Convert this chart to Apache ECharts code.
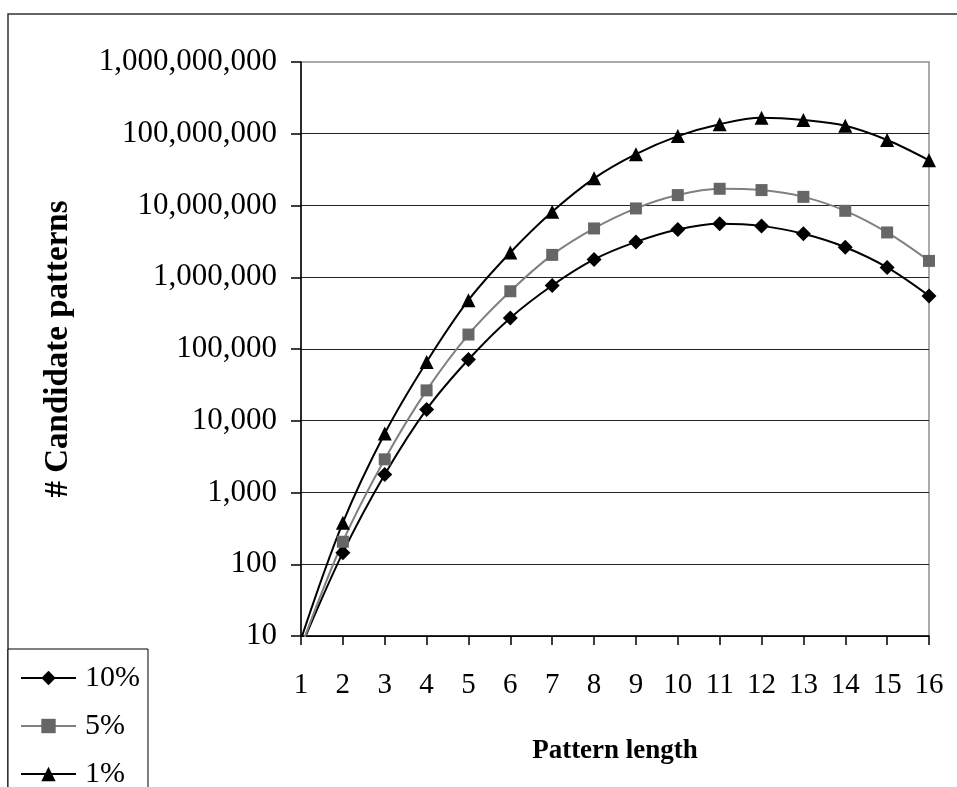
<!DOCTYPE html>
<html>
<head>
<meta charset="utf-8">
<script src="https://cdn.jsdelivr.net/npm/echarts@6/dist/echarts.min.js"></script>
<style>
html,body{margin:0;padding:0;background:#fff;}
#chart{width:957px;height:787px;}
</style>
</head>
<body>
<div id="chart"></div>
<script>
var patternLengths = [1,2,3,4,5,6,7,8,9,10,11,12,13,14,15,16];
var seriesNames = ['10%', '5%', '1%'];
var support10 = [7, 145, 1780, 14400, 71300, 271000, 767000, 1770000, 3110000, 4640000, 5550000, 5200000, 4030000, 2620000, 1370000, 550000];
var support5  = [7, 206, 2900, 26500, 159000, 638000, 2050000, 4790000, 9100000, 13970000, 17100000, 16400000, 13200000, 8430000, 4210000, 1690000];
var support1  = [9, 379, 6650, 66000, 479000, 2210000, 8170000, 23900000, 52000000, 92700000, 136000000, 167000000, 155000000, 129000000, 81700000, 42600000];
var yTicks = [10, 100, 1000, 10000, 100000, 1000000, 10000000, 100000000, 1000000000];

function pairs(vals){ return patternLengths.map(function(x,i){ return [x, vals[i]]; }); }

var font = '"Liberation Serif", "Times New Roman", serif';
var chart = echarts.init(document.getElementById('chart'), null, {renderer:'canvas'});
var styles = [
  {color:'#000000', lineColor:'#000000', symbol:'diamond', size:15},
  {color:'#666666', lineColor:'#808080', symbol:'rect', size:12},
  {color:'#000000', lineColor:'#000000', symbol:'triangle', size:14}
];
var allData = [support10, support5, support1];
var series = allData.map(function(d, i){
  var s = styles[i];
  return {
    name: seriesNames[i],
    type: 'line',
    data: pairs(d),
    smooth: 0.35,
    symbol: s.symbol,
    symbolSize: s.size,
    showAllSymbol: true,
    clip: true,
    lineStyle: {color: s.lineColor, width: 2},
    itemStyle: {color: s.color, borderColor: s.color, borderWidth: 0},
    emphasis: {disabled: true},
    z: 3
  };
});

chart.setOption({
  animation: false,
  backgroundColor: '#ffffff',
  graphic: [{
    type: 'rect',
    shape: {x: 8, y: 14, width: 1000, height: 900},
    style: {fill: null, stroke: '#333333', lineWidth: 1.5},
    z: 0, silent: true
  }],
  grid: {
    left: 301, right: 28, top: 62, bottom: 151,
    show: true, borderColor: '#909090', borderWidth: 1.5, backgroundColor: 'transparent'
  },
  legend: {
    orient: 'vertical',
    left: 8, top: 649, height: 200,
    padding: [14, 8, 20, 12],
    borderColor: '#000000', borderWidth: 1,
    backgroundColor: '#ffffff',
    itemWidth: 55, itemHeight: 18, itemGap: 18,
    data: seriesNames,
    textStyle: {fontFamily: font, fontSize: 30, color: '#000', padding: [0,0,0,4]}
  },
  xAxis: {
    type: 'value', min: 1, max: 16, interval: 1,
    name: 'Pattern length', nameLocation: 'middle', nameGap: 102,
    nameTextStyle: {fontFamily: font, fontSize: 27, fontWeight: 'bold', color: '#000'},
    axisLine: {show: true, lineStyle: {color: '#000', width: 1.5}},
    axisTick: {show: true, inside: false, length: 9, lineStyle: {color: '#000', width: 1.5}},
    axisLabel: {fontFamily: font, fontSize: 29, color: '#000', margin: 35,
      formatter: function(v){ return patternLengths.indexOf(v) >= 0 ? String(v) : ''; }},
    splitLine: {show: false}
  },
  yAxis: {
    type: 'log', logBase: 10, min: yTicks[0], max: yTicks[yTicks.length-1],
    name: '# Candidate patterns', nameLocation: 'middle', nameGap: 226, nameRotate: 90,
    nameTextStyle: {fontFamily: font, fontSize: 33, fontWeight: 'bold', color: '#000'},
    axisLine: {show: true, lineStyle: {color: '#000', width: 1.5}},
    axisTick: {show: true, inside: false, length: 10, lineStyle: {color: '#000', width: 1.5}},
    axisLabel: {fontFamily: font, fontSize: 31, color: '#000', margin: 24,
      formatter: function(v){ return Number(v).toLocaleString('en-US'); }},
    splitLine: {show: true, showMaxLine: false, lineStyle: {color: '#222', width: 1}}
  },
  series: series
});
</script>
</body>
</html>
